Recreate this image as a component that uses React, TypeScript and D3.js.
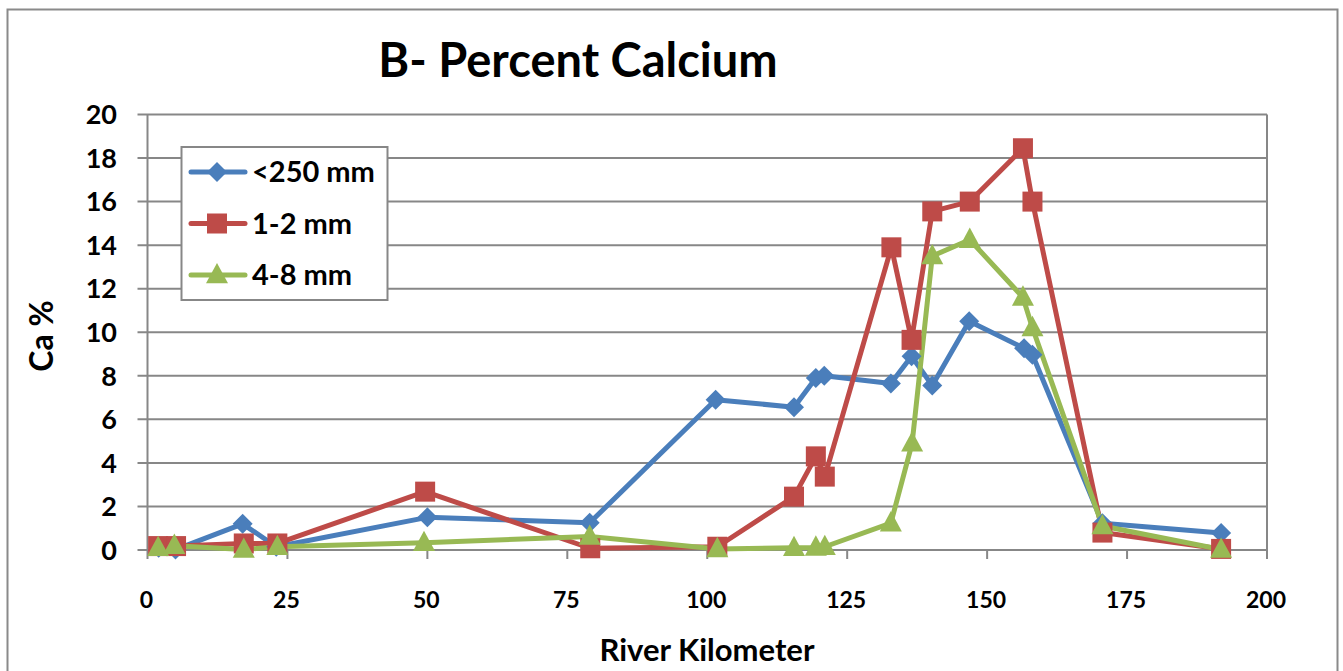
import { useMemo } from "react";
import * as d3 from "d3";

// River kilometer / Ca % readings, per size fraction
const fineKm = [2, 5, 17, 23, 50, 79, 101.5, 115.5, 119.4, 120.9, 132.8, 136.5, 140.2, 146.8, 156.6, 158.1, 170.6, 191.8];
const fineCa = [0.1, 0.02, 1.2, 0.15, 1.5, 1.25, 6.9, 6.56, 7.9, 8.0, 7.65, 8.9, 7.55, 10.5, 9.27, 8.97, 1.23, 0.78];

const midKm = [1.9, 5.1, 17.2, 23.2, 49.6, 79.1, 101.8, 115.5, 119.4, 121, 132.9, 136.5, 140.2, 146.9, 156.4, 158.1, 170.6, 191.8];
const midCa = [0.18, 0.18, 0.3, 0.3, 2.68, 0.08, 0.15, 2.45, 4.3, 3.37, 13.9, 9.65, 15.55, 16.0, 18.45, 16.0, 0.8, 0.05];

const coarseKm = [1.9, 4.8, 17.2, 23.2, 49.4, 79, 101.8, 115.5, 119.4, 121, 132.8, 136.6, 140.2, 146.9, 156.4, 158.1, 170.6, 191.8];
const coarseCa = [0.1, 0.2, 0.02, 0.15, 0.33, 0.62, 0.05, 0.1, 0.12, 0.15, 1.23, 4.9, 13.5, 14.25, 11.6, 10.2, 1.1, 0.02];

const seriesNames = ["<250 mm", "1-2 mm", "4-8 mm"];
const xTicks = [0, 25, 50, 75, 100, 125, 150, 175, 200];
const yTicks = [0, 2, 4, 6, 8, 10, 12, 14, 16, 18, 20];

const W = 1343;
const H = 671;
const PLOT = { left: 147.5, right: 1267, top: 114.5, bottom: 550 };
const COLORS = ["#4a7ebb", "#be4b48", "#98b954"];
const GRID = "#878787";
const FONT = "Lato, 'Open Sans', sans-serif";

type Pt = { km: number; ca: number };

function Marker({ kind, x, y, color }: { kind: number; x: number; y: number; color: string }) {
  if (kind === 0) {
    const r = 10;
    return <path d={`M${x},${y - r}L${x + r},${y}L${x},${y + r}L${x - r},${y}Z`} fill={color} />;
  }
  if (kind === 1) {
    const s = 10;
    return <rect x={x - s} y={y - s} width={2 * s} height={2 * s} fill={color} />;
  }
  const r = 11;
  return (
    <path
      d={`M${x},${y - r * 1.1}L${x + r},${y + r * 0.75}L${x - r},${y + r * 0.75}Z`}
      fill={color}
    />
  );
}

export default function App() {
  const x = d3.scaleLinear().domain([0, 200]).range([PLOT.left, PLOT.right]);
  const y = d3.scaleLinear().domain([0, 20]).range([PLOT.bottom, PLOT.top]);

  const series = useMemo(() => {
    const zip = (ks: number[], cs: number[]): Pt[] => ks.map((k, i) => ({ km: k, ca: cs[i] }));
    return [zip(fineKm, fineCa), zip(midKm, midCa), zip(coarseKm, coarseCa)];
  }, []);

  const line = d3
    .line<Pt>()
    .x((d) => x(d.km))
    .y((d) => y(d.ca));

  return (
    <svg width={W} height={H} style={{ display: "block", position: "absolute", left: 0, top: 0 }} fontFamily={FONT}>
      <rect x={0} y={0} width={W} height={H} fill="#fff" />
      {/* outer chart border */}
      <path d={`M7.5,${H}V9.5H1337.5V${H}`} fill="none" stroke="#8a8a8a" strokeWidth={2} />

      <text x={578} y={77} textAnchor="middle" fontSize={47} fontWeight={700} fill="#000">
        B- Percent Calcium
      </text>

      {/* gridlines */}
      {yTicks.map((t) => (
        <line key={t} x1={PLOT.left - 10} x2={PLOT.right} y1={y(t)} y2={y(t)} stroke={GRID} strokeWidth={2} />
      ))}
      <line x1={PLOT.left} x2={PLOT.left} y1={PLOT.top} y2={PLOT.bottom} stroke={GRID} strokeWidth={2} />
      <line x1={PLOT.right} x2={PLOT.right} y1={PLOT.top} y2={PLOT.bottom + 9} stroke={GRID} strokeWidth={2} />
      {xTicks.map((t) => (
        <line key={t} x1={x(t)} x2={x(t)} y1={PLOT.bottom} y2={PLOT.bottom + 9} stroke={GRID} strokeWidth={2} />
      ))}

      {/* y tick labels */}
      {yTicks.map((t) => (
        <text key={t} x={117} y={y(t)} dy="0.36em" textAnchor="end" fontSize={27} fontWeight={700}>
          {t}
        </text>
      ))}
      {/* x tick labels */}
      {xTicks.map((t) => (
        <text key={t} x={x(t) - 1} y={608} textAnchor="middle" fontSize={23} fontWeight={700}>
          {t}
        </text>
      ))}

      <text x={707} y={661} textAnchor="middle" fontSize={31} fontWeight={700}>
        River Kilometer
      </text>
      <text transform="translate(53,336) rotate(-90)" textAnchor="middle" fontSize={32} fontWeight={700}>
        Ca %
      </text>

      {/* series */}
      {series.map((pts, i) => (
        <path key={i} d={line(pts) ?? ""} fill="none" stroke={COLORS[i]} strokeWidth={5} strokeLinejoin="round" />
      ))}
      {series.map((pts, i) => (
        <g key={i}>
          {pts.map((p, j) => (
            <Marker key={j} kind={i} x={x(p.km)} y={y(p.ca)} color={COLORS[i]} />
          ))}
        </g>
      ))}

      {/* legend */}
      <rect x={181.5} y={147} width={206} height={153} fill="#fff" stroke={GRID} strokeWidth={2} />
      {seriesNames.map((name, i) => {
        const ly = 172 + i * 51.5;
        return (
          <g key={name}>
            <line x1={191} x2={245} y1={ly} y2={ly} stroke={COLORS[i]} strokeWidth={5} strokeLinecap="round" />
            <Marker kind={i} x={217} y={ly} color={COLORS[i]} />
            <text x={252} y={ly} dy="0.36em" fontSize={29} fontWeight={700}>
              {name}
            </text>
          </g>
        );
      })}
    </svg>
  );
}
